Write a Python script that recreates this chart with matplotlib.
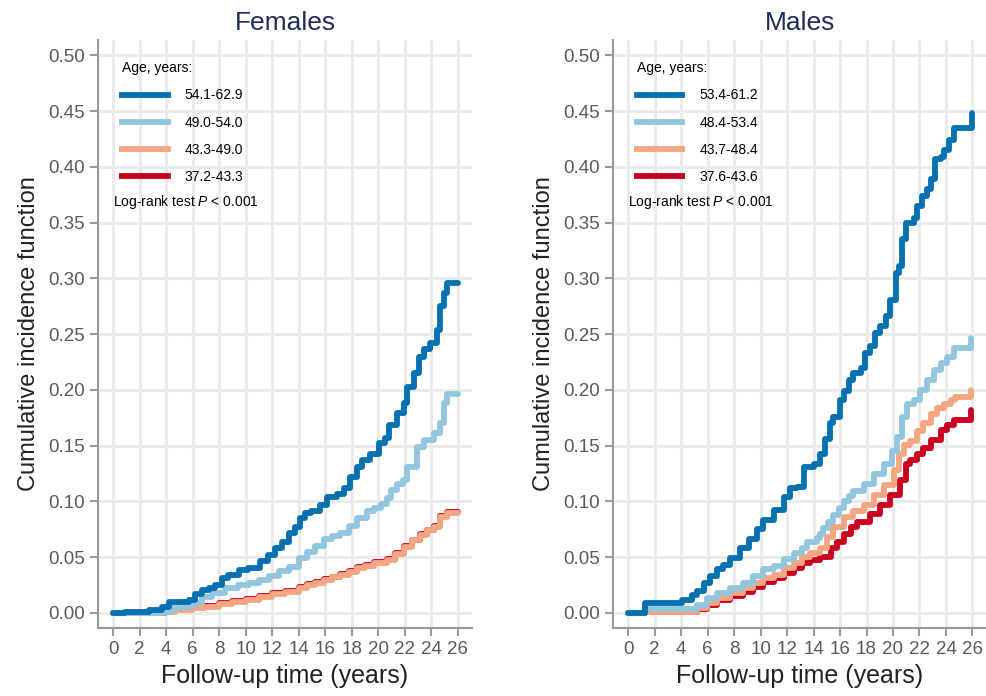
import numpy as np
import matplotlib
matplotlib.use("Agg")
import matplotlib.pyplot as plt
from matplotlib.lines import Line2D

plt.rcParams['font.family'] = ['Liberation Sans', 'DejaVu Sans']
plt.rcParams['mathtext.fontset'] = 'custom'
plt.rcParams['mathtext.rm'] = 'Liberation Sans'
plt.rcParams['mathtext.it'] = 'Liberation Sans:italic'

# ---- data (step points: time in years, cumulative incidence) ----
# Females
f_t1 = [0, 0.9, 2.7, 3.7, 4.2, 5.7, 6.2, 6.7, 7.2, 7.7, 8.2, 8.7, 9.5, 10.2, 11.1, 11.7, 12.2,
        12.75, 13.25, 13.75, 14.1, 14.5, 14.9, 15.6, 16.15, 16.9, 17.4, 17.9, 18.4, 18.8, 19.4,
        20.05, 20.55, 20.8, 21.45, 21.95, 22.2, 22.7, 23.1, 23.45, 23.95, 24.45, 24.7, 24.95,
        25.2, 26.0]
f_v1 = [0, 0.0012, 0.0027, 0.0057, 0.0102, 0.0117, 0.017, 0.0207, 0.0222, 0.0252, 0.0311,
        0.0341, 0.0386, 0.0401, 0.047, 0.052, 0.058, 0.064, 0.0715, 0.0775, 0.085, 0.0895,
        0.091, 0.097, 0.104, 0.107, 0.112, 0.122, 0.131, 0.137, 0.143, 0.152, 0.157, 0.169,
        0.179, 0.188, 0.203, 0.215, 0.230, 0.237, 0.242, 0.254, 0.275, 0.287, 0.296, 0.296]
f_t2 = [0, 3.55, 4.4, 5.2, 5.95, 6.7, 7.45, 8.45, 9.45, 10.25, 11.0, 11.75, 12.5, 13.25, 14.0,
        14.6, 15.25, 15.9, 16.5, 17.15, 17.8, 18.4, 19.15, 19.7, 20.2, 20.7, 20.95, 21.45, 21.9,
        22.2, 22.95, 23.45, 24.2, 24.7, 24.95, 25.2, 26.0]
f_v2 = [0, 0.0012, 0.0042, 0.0057, 0.0087, 0.0147, 0.0177, 0.0222, 0.0252, 0.0267, 0.0297,
        0.0327, 0.0372, 0.0416, 0.049, 0.055, 0.060, 0.066, 0.069, 0.0715, 0.078, 0.085, 0.091,
        0.094, 0.098, 0.103, 0.110, 0.116, 0.119, 0.131, 0.149, 0.155, 0.161, 0.170, 0.188,
        0.196, 0.196]
f_t3 = [0, 3.9, 4.7, 5.95, 6.95, 7.95, 8.95, 10.0, 11.0, 12.0, 13.0, 14.0, 14.6, 15.25, 15.9,
        16.5, 17.15, 17.8, 18.4, 19.05, 19.7, 20.7, 21.3, 21.95, 22.6, 23.2, 23.7, 24.2, 24.7,
        25.2, 26.0]
f_v3 = [0, 0.001, 0.0027, 0.0042, 0.0057, 0.008, 0.0102, 0.0117, 0.0141, 0.017, 0.0192, 0.0222,
        0.025, 0.0273, 0.0296, 0.0318, 0.034, 0.037, 0.040, 0.0423, 0.0446, 0.0476, 0.053,
        0.0595, 0.065, 0.070, 0.074, 0.0775, 0.086, 0.090, 0.090]
f_t4 = [0, 3.9, 4.7, 5.95, 6.95, 7.95, 8.95, 10.0, 11.0, 12.0, 13.0, 14.0, 14.6, 15.25, 15.9,
        16.5, 17.15, 17.8, 18.4, 19.05, 19.7, 20.7, 21.3, 21.95, 22.6, 23.2, 23.7, 24.2, 24.7,
        25.2, 26.0]
f_v4 = [0, 0.0017, 0.0035, 0.005, 0.0065, 0.0088, 0.011, 0.0125, 0.0149, 0.0178, 0.02, 0.023,
        0.0258, 0.0281, 0.0304, 0.0326, 0.0348, 0.0378, 0.0408, 0.0431, 0.0454, 0.0484, 0.0538,
        0.0603, 0.0658, 0.0708, 0.0748, 0.0783, 0.0868, 0.0908, 0.0908]

# Males
m_t1 = [0, 1.3, 4.05, 4.8, 5.2, 5.7, 6.2, 6.7, 7.2, 7.7, 8.45, 9.1, 9.7, 10.2, 11.0, 11.75,
        12.25, 12.75, 13.25, 14.0, 14.5, 14.9, 15.25, 15.5, 16.0, 16.3, 16.65, 17.0, 17.55,
        17.9, 18.3, 18.65, 19.05, 19.45, 19.8, 20.2, 20.45, 20.7, 20.95, 21.55, 21.8, 22.2,
        22.6, 22.85, 23.2, 23.6, 23.85, 24.2, 24.6, 25.98]
m_v1 = [0, 0.009, 0.012, 0.016, 0.0193, 0.027, 0.033, 0.039, 0.043, 0.049, 0.058, 0.066, 0.075,
        0.083, 0.092, 0.104, 0.112, 0.113, 0.131, 0.134, 0.143, 0.156, 0.170, 0.176, 0.191,
        0.199, 0.209, 0.215, 0.220, 0.233, 0.239, 0.251, 0.257, 0.266, 0.281, 0.305, 0.311,
        0.335, 0.350, 0.354, 0.365, 0.374, 0.380, 0.389, 0.407, 0.409, 0.415, 0.424, 0.435,
        0.448]
m_t2 = [0, 1.3, 5.2, 5.95, 6.7, 7.7, 8.7, 9.45, 10.2, 11.0, 11.75, 12.5, 13.1, 13.5, 14.25,
        14.5, 14.75, 15.1, 15.5, 15.9, 16.3, 16.65, 17.0, 17.8, 18.55, 19.3, 19.9, 20.3, 20.7,
        21.05, 21.55, 22.05, 22.6, 23.1, 23.6, 24.1, 24.6, 25.9]
m_v2 = [0, 0.0034, 0.0073, 0.0133, 0.018, 0.0222, 0.027, 0.033, 0.039, 0.042, 0.048, 0.054,
        0.058, 0.064, 0.067, 0.071, 0.076, 0.082, 0.088, 0.094, 0.100, 0.105, 0.109, 0.116,
        0.125, 0.134, 0.145, 0.158, 0.176, 0.187, 0.191, 0.200, 0.209, 0.218, 0.224, 0.230,
        0.238, 0.247]
m_t3 = [0, 1.3, 5.2, 5.95, 6.7, 7.7, 8.7, 9.45, 10.2, 11.0, 11.75, 12.5, 13.1, 13.75, 14.5,
        15.0, 15.5, 16.3, 17.0, 17.8, 18.55, 19.3, 20.05, 20.45, 20.8, 21.3, 21.8, 22.3, 22.85,
        23.35, 23.85, 24.35, 24.7, 25.9]
m_v3 = [0, 0.0012, 0.0042, 0.0087, 0.0132, 0.0177, 0.0222, 0.0266, 0.0311, 0.034, 0.040, 0.0446,
        0.0505, 0.0535, 0.058, 0.068, 0.077, 0.086, 0.091, 0.097, 0.106, 0.115, 0.128, 0.143,
        0.151, 0.154, 0.163, 0.170, 0.178, 0.184, 0.187, 0.191, 0.194, 0.200]
m_t4 = [0, 1.3, 5.2, 5.95, 6.7, 7.7, 8.7, 9.45, 10.2, 11.0, 11.75, 12.5, 13.1, 13.75, 14.5,
        15.3, 15.8, 16.3, 16.8, 17.3, 18.3, 19.05, 19.8, 20.55, 20.95, 21.3, 21.8, 22.3, 22.85,
        23.6, 24.1, 24.6, 25.9]
m_v4 = [0, 0.0005, 0.0033, 0.0073, 0.0117, 0.0153, 0.0192, 0.0237, 0.0281, 0.031, 0.0356, 0.040,
        0.0446, 0.0476, 0.0505, 0.058, 0.064, 0.071, 0.077, 0.082, 0.089, 0.097, 0.106, 0.119,
        0.134, 0.137, 0.143, 0.148, 0.155, 0.164, 0.169, 0.173, 0.182]

f_labels = ["54.1-62.9", "49.0-54.0", "43.3-49.0", "37.2-43.3"]
m_labels = ["53.4-61.2", "48.4-53.4", "43.7-48.4", "37.6-43.6"]
colors = ["#0571b0", "#92c5de", "#f4a582", "#ca0020"]

panels = [
    ("Females", [(f_t1, f_v1), (f_t2, f_v2), (f_t3, f_v3), (f_t4, f_v4)], f_labels),
    ("Males", [(m_t1, m_v1), (m_t2, m_v2), (m_t3, m_v3), (m_t4, m_v4)], m_labels),
]

fig = plt.figure(figsize=(9.87, 6.96), dpi=100)
axes = [fig.add_axes([0.0993, 0.0977, 0.379, 0.845]),
        fig.add_axes([0.621, 0.0977, 0.379, 0.845])]

for ax, (title, series, labels) in zip(axes, panels):
    # youngest group first so the oldest group ends on top
    for k in [3, 2, 1, 0]:
        t, v = series[k]
        ax.plot(t, v, drawstyle="steps-post", color=colors[k], lw=4.2,
                solid_capstyle="round", solid_joinstyle="round", zorder=3 + (3 - k))

    ax.set_xlim(-1.15, 27.1)
    ax.set_ylim(-0.0135, 0.514)
    ax.set_xticks(np.arange(0, 27, 2))
    ax.set_yticks(np.arange(0, 0.51, 0.05))
    ax.set_yticklabels([f"{y:.2f}" for y in np.arange(0, 0.51, 0.05)])
    ax.grid(True, color="#ebebeb", lw=2.2, zorder=0)
    ax.set_axisbelow(True)
    for s in ["top", "right"]:
        ax.spines[s].set_visible(False)
    for s in ["left", "bottom"]:
        ax.spines[s].set_color("#9a9a9a")
        ax.spines[s].set_linewidth(1.5)
    ax.tick_params(axis="both", colors="#9a9a9a", width=1.5, length=6, labelsize=13.5,
                   labelcolor="#5a5a5a")
    ax.set_title(title, fontsize=19, color="#1f2d5a", pad=7)
    ax.set_xlabel("Follow-up time (years)", fontsize=18, color="#222222", labelpad=4)
    ax.set_ylabel("Cumulative incidence function", fontsize=17, color="#222222", labelpad=6)

    handles = [Line2D([0], [0], color=c, lw=4.2) for c in colors]
    ax.legend(handles, labels, title="Age, years:", loc="upper left",
              bbox_to_anchor=(0.03, 0.985), frameon=False, fontsize=10,
              title_fontsize=10, handlelength=3.3, handletextpad=1.2,
              labelspacing=0.95, alignment="left")
    ax.text(0.04, 0.725, r"Log-rank test $P$ < 0.001", transform=ax.transAxes,
            fontsize=10, va="center", ha="left")

plt.savefig("out.png", dpi=100)
plt.close()
